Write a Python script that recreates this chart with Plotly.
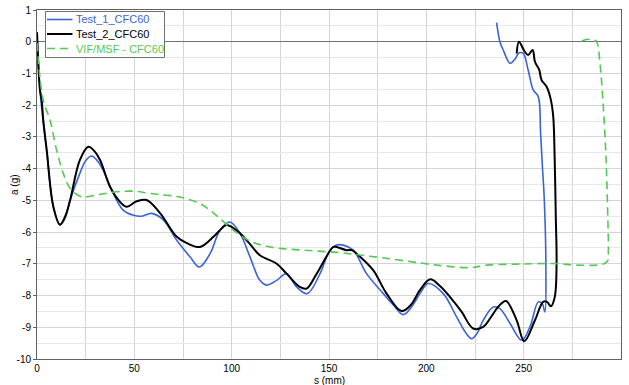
import plotly.graph_objects as go

# Test_1_CFC60 (displacement s in mm, acceleration a in g)
s_test1 = [0, 1.5, 3.2, 5.0, 8.4, 11.8, 14.5, 17.0, 22.0, 25.0, 28.1, 31.0, 34.0, 39.2, 44.3,
           49.5, 53.8, 58.9, 64.9, 71.8, 78.6, 83.4, 88.9, 94.0, 99.1, 104.3, 109.4, 114.5,
           118.0, 123.1, 128.2, 133.4, 138.8, 145.4, 150.5, 153.9, 157.3, 162.5, 169.3,
           177.9, 183.0, 188.1, 192.5, 196.7, 201.0, 208.7, 215.6, 220.0, 223.3, 226.0,
           229.2, 234.4, 237.8, 243.0, 249.0, 253.2, 257.5, 259.5, 260.9, 261.4, 260.6,
           259.6, 258.7, 257.5, 254.9, 252.3, 249.8, 247.7, 245.5, 243.0, 239.5, 237.8, 236.1]
a_test1 = [0.3, -1.5, -2.5, -3.45, -5.2, -5.78, -5.55, -5.0, -4.15, -3.75, -3.6, -3.75,
           -4.05, -4.78, -5.31, -5.47, -5.5, -5.41, -5.62, -6.26, -6.78, -7.1, -6.68, -5.94,
           -5.68, -6.04, -6.78, -7.52, -7.67, -7.52, -7.31, -7.73, -7.94, -7.31, -6.57,
           -6.41, -6.41, -6.57, -7.31, -7.94, -8.3, -8.6, -8.35, -7.94, -7.62, -7.94, -8.68,
           -9.15, -9.36, -9.2, -8.78, -8.36, -8.41, -8.88, -9.41, -8.99, -8.2, -8.25, -8.52,
           -6.99, -4.99, -3.9, -2.89, -1.73, -1.52, -0.89, -0.37, -0.35, -0.55, -0.68,
           -0.26, 0.0, 0.6]

# Test_2_CFC60
s_test2 = [0, 1.5, 2.4, 3.2, 5.0, 8.4, 11.8, 14.5, 17.0, 22.0, 26.4, 29.5, 32.4, 37.5, 42.0,
           46.0, 51.2, 56.3, 63.2, 71.8, 77.0, 83.7, 90.6, 94.0, 97.4, 104.3, 109.0, 114.5,
           123.0, 128.2, 135.0, 138.5, 143.7, 152.2, 153.9, 159.0, 161.6, 166.0, 172.7,
           179.6, 187.3, 192.0, 196.7, 202.0, 207.0, 212.1, 218.0, 224.1, 229.2, 233.0,
           237.0, 240.9, 246.4, 250.3, 255.8, 260.0, 262.0, 264.0, 266.0, 266.9, 266.5,
           265.9, 265.2, 264.0, 261.8, 259.2, 258.0, 255.8, 254.6, 252.3, 250.6, 247.6, 246.4]
a_test2 = [0.3, -1.5, -1.84, -2.47, -3.42, -5.2, -5.76, -5.5, -5.0, -3.73, -3.31, -3.45,
           -3.73, -4.57, -5.0, -5.2, -5.03, -4.99, -5.4, -6.15, -6.35, -6.47, -6.15, -5.94,
           -5.78, -6.04, -6.35, -6.73, -6.99, -7.31, -7.73, -7.78, -7.31, -6.47, -6.47,
           -6.57, -6.57, -6.78, -7.2, -7.94, -8.49, -8.3, -7.83, -7.49, -7.7, -8.04, -8.5,
           -9.04, -8.99, -8.7, -8.35, -8.17, -8.78, -9.44, -8.78, -8.2, -8.2, -8.34, -8.04,
           -6.99, -5.5, -3.6, -2.37, -1.84, -1.42, -1.21, -0.89, -0.63, -0.26, -0.42,
           -0.32, 0.0, -0.37]

# VIF/MSF - CFC60
s_vif = [0, 3.2, 6.7, 10.1, 13.5, 17.0, 22.1, 24.6, 32.4, 40.9, 49.5, 58.0, 66.6, 75.1,
         83.7, 88.9, 94.0, 100.8, 109.4, 119.7, 136.8, 153.9, 171.0, 196.7, 205.3, 222.4,
         231.0, 248.1, 265.2, 277.2, 287.5, 291.5, 293.2, 293.5, 293.0, 292.2, 290.9,
         289.2, 287.5, 285.8, 282.3, 280.0]
a_vif = [-0.04, -1.84, -2.47, -3.42, -4.15, -4.62, -4.87, -4.89, -4.81, -4.73, -4.71,
         -4.78, -4.84, -4.92, -5.1, -5.31, -5.57, -5.94, -6.28, -6.47, -6.57, -6.64, -6.76,
         -6.97, -7.04, -7.12, -7.04, -7.01, -6.99, -7.04, -7.04, -6.99, -6.9, -6.68, -5.0,
         -3.5, -2.05, -0.68, 0.0, 0.07, 0.07, 0.03]

series_names = ["Test_1_CFC60", "Test_2_CFC60", "VIF/MSF - CFC60"]
x_ticks = [0, 50, 100, 150, 200, 250, 300]
y_ticks = [1, 0, -1, -2, -3, -4, -5, -6, -7, -8, -9, -10]

BLUE = "#3a64d6"
BLACK = "#000000"
GREEN = "#55c855"
FONT = "Liberation Sans, Arial, sans-serif"
colors = [BLUE, BLACK, GREEN]
dashes = ["solid", "solid", "8px,5px"]
widths = [1.6, 2.0, 1.6]

fig = go.Figure()
for xs, ys, c, d, w, n in zip([s_test1, s_test2, s_vif], [a_test1, a_test2, a_vif],
                              colors, dashes, widths, series_names):
    fig.add_trace(go.Scatter(x=xs, y=ys, mode="lines", name=n, showlegend=False,
                             line=dict(color=c, width=w, dash=d, shape="spline", smoothing=1.0)))

# plot-area geometry in pixels, used to place the legend box
W, H = 629, 385
L, R, T, B = 37, 8, 10, 26
pw, ph = W - L - R, H - T - B


def px(xp):
    return (xp - L) / pw


def py(yp):
    return (H - B - yp) / ph


shapes = [dict(type="rect", xref="paper", yref="paper",
               x0=px(45.5), x1=px(164.5), y0=py(57.5), y1=py(11.5),
               fillcolor="white", line=dict(color="#707070", width=1), layer="above")]
annotations = []
row_y = [19.5, 34.0, 48.5]
for c, d, w, n, ry in zip(colors, dashes, widths, series_names, row_y):
    shapes.append(dict(type="line", xref="paper", yref="paper",
                       x0=px(47), x1=px(72.5), y0=py(ry), y1=py(ry),
                       line=dict(color=c, width=w, dash=d), layer="above"))
    annotations.append(dict(xref="paper", yref="paper", x=px(74), y=py(ry),
                            xanchor="left", yanchor="middle", showarrow=False,
                            text=n, font=dict(family=FONT, size=11, color=c)))

# axis titles
annotations.append(dict(xref="paper", yref="paper", x=0.5, y=py(380.5), xanchor="center",
                        yanchor="middle", showarrow=False, text="s (mm)",
                        font=dict(family=FONT, size=10, color="#000")))
annotations.append(dict(xref="paper", yref="paper", x=px(14.5), y=0.5, xanchor="center",
                        yanchor="middle", showarrow=False, text="a (g)", textangle=-90,
                        font=dict(family=FONT, size=10, color="#000")))

fig.update_layout(
    width=W, height=H,
    margin=dict(l=L, r=R, t=T, b=B),
    paper_bgcolor="white", plot_bgcolor="white",
    font=dict(family=FONT, size=10, color="#000"),
    showlegend=False,
    shapes=shapes, annotations=annotations,
    xaxis=dict(range=[0, 300], tickvals=x_ticks, ticktext=[str(v) for v in x_ticks],
               automargin=False, tickfont=dict(size=10),
               showgrid=True, gridcolor="#d4d4d4", gridwidth=1,
               minor=dict(dtick=25, showgrid=True, gridcolor="#d4d4d4", ticks=""),
               showline=True, linecolor="#606060", linewidth=1, mirror=True,
               ticks="", zeroline=False),
    yaxis=dict(range=[-10, 1], tickvals=y_ticks, ticktext=[str(v) for v in y_ticks],
               automargin=False, tickfont=dict(size=10),
               showgrid=True, gridcolor="#d4d4d4", gridwidth=1,
               minor=dict(dtick=0.5, showgrid=True, gridcolor="#e8e8e8", ticks=""),
               showline=True, linecolor="#606060", linewidth=1, mirror=True,
               ticks="outside", ticklen=3, tickcolor="#606060",
               zeroline=True, zerolinecolor="#707070", zerolinewidth=1),
)

fig.write_html("out.html")
